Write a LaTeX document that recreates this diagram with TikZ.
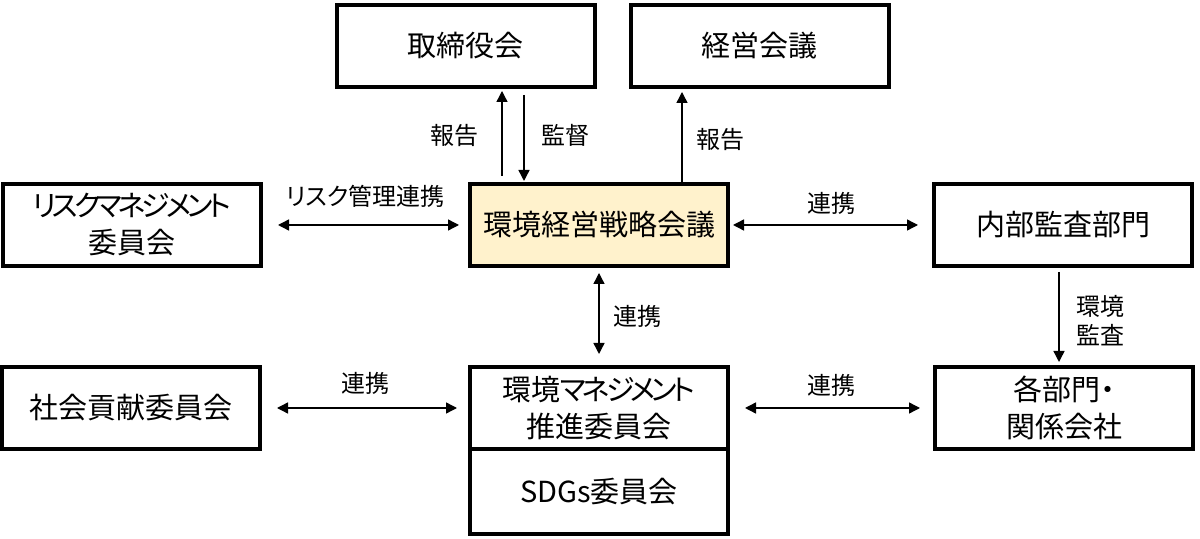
\documentclass[tikz,border=0pt]{standalone}
\usepackage{fontspec}
\setmainfont{Noto Sans CJK JP}[RawFeature=+palt]
\newfontfamily\kanafont{Noto Sans CJK JP}[RawFeature=+palt, LetterSpace=-14]
\newcommand{\kn}[1]{{\kanafont #1}}
\usepackage{xcolor}
\usetikzlibrary{arrows.meta}
\usetikzlibrary{positioning}
\definecolor{stratfill}{HTML}{FFF2CC}

\begin{document}
\begin{tikzpicture}[x=0.5pt,y=-0.5pt,node distance=102pt,semithick]
	\tikzstyle{box}=[draw, line width=2pt, minimum width=129pt, minimum height=41pt, align=center, font=\fontsize{14.5}{18.5}\selectfont]
	\tikzstyle{lbl}=[inner sep=0pt, align=center, font=\fontsize{12}{14.5}\selectfont]
	\tikzstyle{arr}=[line width=0.7pt, -{Triangle[length=5.5pt,width=5.5pt]}]
	\tikzstyle{darr}=[line width=0.7pt, {Triangle[length=5.5pt,width=5.5pt]}-{Triangle[length=5.5pt,width=5.5pt]}]
	\useasboundingbox (0,0) rectangle (1200,539);
		\node[box, fill=stratfill] (strat) at (599,225) {環境経営戦略会議};
		\node[box] (board) [above=46.5pt of strat, xshift=-66.75pt] {取締役会};
		\node[box] (mgmt) [right=16pt of board] {経営会議};
		\node[box] (risk) [left=102.5pt of strat] {\kn{リスクマネジメント}\\委員会};
		\node[box] (audit) [right=101pt of strat] {内部監査部門};
		\node[box] (envm) [below=48.5pt of strat] {環境\kn{マネジメント}\\推進委員会};
		\node[box, minimum height=42.5pt] (sdgs) [below=-2pt of envm] {SDGs委員会};
		\node[box] (social) [left=103pt of envm] {社会貢献委員会};
		\node[box] (depts) [right=101.5pt of envm] {各部門・\\関係会社};
		% board and management meeting
		\draw[arr, shorten <=3pt, shorten >=1pt] ([xshift=-48.5pt]strat.north) -- node[lbl, left=11.5pt] {報告} ([xshift=-48.5pt]strat.north |- board.south);
		\draw[arr, shorten <=3pt, shorten >=0.5pt] ([xshift=-37.5pt]strat.north |- board.south) -- node[lbl, right=8.5pt] {監督} ([xshift=-37.5pt]strat.north);
		\draw[arr, shorten >=1.5pt] ([xshift=41.5pt]strat.north) -- node[lbl, right=7pt, yshift=-2pt] {報告} ([xshift=41.5pt]strat.north |- mgmt.south);
		% links
		\draw[darr, shorten <=7.5pt, shorten >=4.5pt] (risk) -- node[lbl, above=8.5pt] {リスク管理連携} (strat);
		\draw[darr, shorten <=1.5pt, shorten >=7pt] (strat) -- node[lbl, above=5pt] {連携} (audit);
		\draw[darr, shorten <=2.5pt, shorten >=5.5pt] (strat) -- node[lbl, right=7pt] {連携} (envm);
		\draw[darr, shorten <=7.5pt, shorten >=5.5pt] (social) -- node[lbl, above=6.5pt] {連携} (envm);
		\draw[darr, shorten <=7.5pt, shorten >=6.5pt] (envm) -- node[lbl, above=5.5pt] {連携} (depts);
		\draw[arr, shorten <=2pt, shorten >=1.5pt] ([xshift=-2pt]audit.south) -- node[lbl, right=8.5pt, yshift=-2pt] {環境\\監査} ([xshift=-2pt]audit.south |- depts.north);
\end{tikzpicture}
\end{document}
